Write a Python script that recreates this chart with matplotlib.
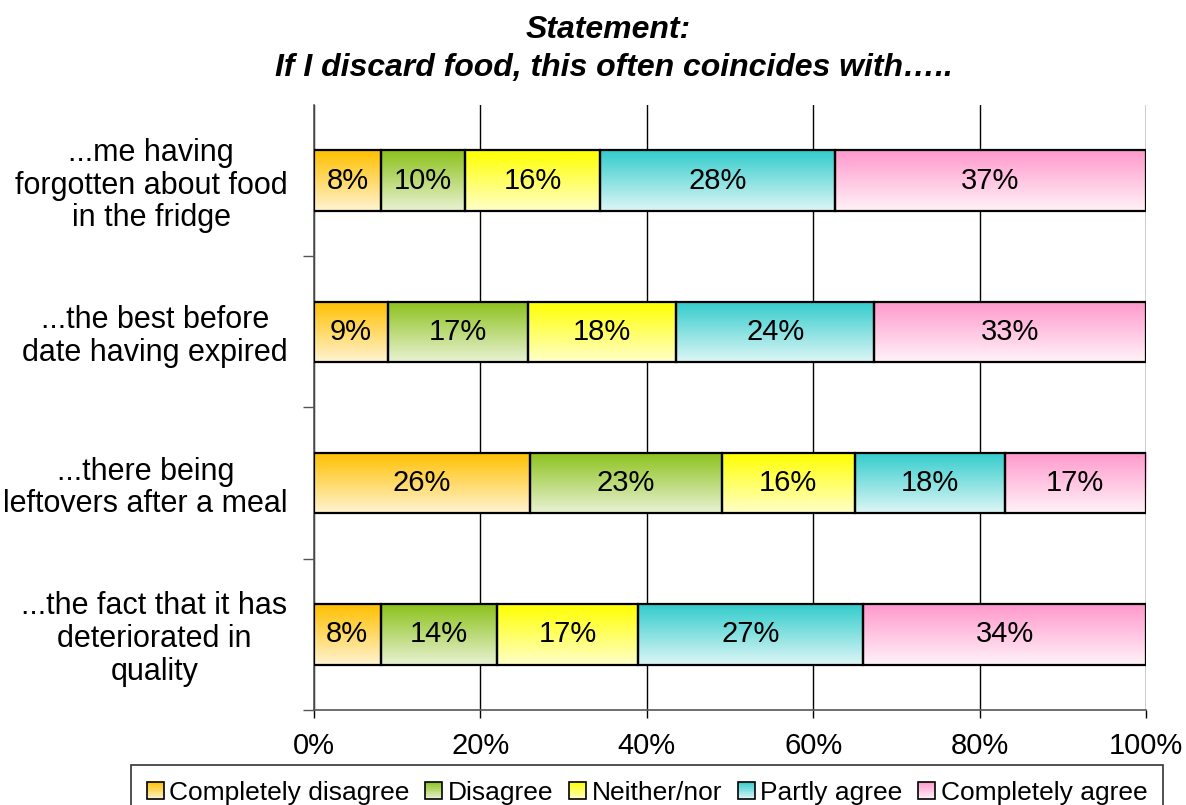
import matplotlib.pyplot as plt
import numpy as np
from matplotlib.colors import LinearSegmentedColormap, to_rgb
from matplotlib.legend_handler import HandlerBase
from matplotlib.patches import Rectangle
from matplotlib.ticker import FixedLocator

plt.rcParams["font.family"] = ["Liberation Sans", "DejaVu Sans"]

# survey answers (%) per statement, top row first
STATEMENTS = [
    "...me having\nforgotten about food\nin the fridge",
    "...the best before\ndate having expired",
    "...there being\nleftovers after a meal",
    "...the fact that it has\ndeteriorated in\nquality",
]
ANSWERS = ["Completely disagree", "Disagree", "Neither/nor",
           "Partly agree", "Completely agree"]
COMPLETELY_DISAGREE = [8, 9, 26, 8]
DISAGREE = [10, 17, 23, 14]
NEITHER = [16, 18, 16, 17]
PARTLY_AGREE = [28, 24, 18, 27]
COMPLETELY_AGREE = [37, 33, 17, 34]
X_TICKS = [0, 20, 40, 60, 80, 100]

# gradient fills: darker at the top of each bar, pale at the bottom
GRADIENTS = [
    ("#FFC000", "#FFF3D0"),
    ("#8CC21C", "#E9F2D2"),
    ("#FFFF00", "#FFFFC8"),
    ("#33CCCC", "#DDF6F6"),
    ("#FF99CC", "#FFF2F8"),
]
BAR_H = 0.4


class GradSwatch:
    def __init__(self, top, bottom):
        self.top, self.bottom = top, bottom


class GradSwatchHandler(HandlerBase):
    """Small square legend key filled with the same top-to-bottom gradient."""

    def create_artists(self, legend, handle, xdescent, ydescent,
                       width, height, fontsize, trans):
        side = min(width, height)
        x0 = -xdescent + (width - side) / 2
        y0 = -ydescent + (height - side) / 2
        c_top, c_bot = np.array(to_rgb(handle.top)), np.array(to_rgb(handle.bottom))
        n = 10
        arts = []
        for j in range(n):
            t = (j + 0.5) / n
            col = c_top * (1 - t) + c_bot * t
            arts.append(Rectangle((x0, y0 + side * (1 - (j + 1) / n)), side,
                                  side / n, facecolor=col, edgecolor="none",
                                  transform=trans))
        arts.append(Rectangle((x0, y0), side, side, fill=False,
                              edgecolor="black", linewidth=1.2,
                              transform=trans))
        return arts


series = np.array([COMPLETELY_DISAGREE, DISAGREE, NEITHER,
                   PARTLY_AGREE, COMPLETELY_AGREE], dtype=float)
shares = series / series.sum(axis=0) * 100  # 100% stacked

fig = plt.figure(figsize=(11.86, 8.05), dpi=100)
ax = fig.add_axes([314 / 1186, 1 - 710 / 805, 832 / 1186, 605 / 805])

grad = np.linspace(0, 1, 64).reshape(-1, 1)
for k, (top_c, bot_c) in enumerate(GRADIENTS):
    cmap = LinearSegmentedColormap.from_list(f"g{k}", [top_c, bot_c])
    lefts = shares[:k].sum(axis=0)
    for i in range(len(STATEMENTS)):
        x0, w = lefts[i], shares[k, i]
        ax.imshow(grad, cmap=cmap, aspect="auto", origin="upper",
                  extent=(x0, x0 + w, i + BAR_H / 2, i - BAR_H / 2),
                  zorder=2, interpolation="bilinear")
        ax.add_patch(Rectangle((x0, i - BAR_H / 2), w, BAR_H, fill=False,
                               edgecolor="black", linewidth=1.6, zorder=3))
        ax.text(x0 + w / 2, i, f"{int(series[k, i])}%", ha="center",
                va="center", fontsize=21, color="black", zorder=4)

ax.set_xlim(0, 100)
ax.set_ylim(len(STATEMENTS) - 0.5, -0.5)

ax.xaxis.set_major_locator(FixedLocator(X_TICKS))
ax.set_xticklabels([f"{t}%" for t in X_TICKS])
ax.tick_params(axis="x", direction="out", length=6, width=1, pad=10,
               labelsize=21, colors="black")

ax.set_yticks(range(len(STATEMENTS)))
ax.set_yticklabels(STATEMENTS, multialignment="center", linespacing=1.12)
ax.tick_params(axis="y", which="major", length=0, pad=19, labelsize=22)
ax.yaxis.set_minor_locator(FixedLocator(np.arange(0.5, len(STATEMENTS), 1)))
ax.tick_params(axis="y", which="minor", direction="out", length=8,
               width=1, color="#555555")

ax.grid(axis="x", color="black", linewidth=1, zorder=1)
ax.set_axisbelow(True)
for side in ("top", "right"):
    ax.spines[side].set_visible(False)
for side in ("left", "bottom"):
    ax.spines[side].set_color("#555555")
    ax.spines[side].set_linewidth(1.2)

fig.text(608 / 1186, 1 - 30 / 805, "Statement:", ha="center", va="center",
         fontsize=23, fontweight="bold", fontstyle="italic")
fig.text(614 / 1186, 1 - 68 / 805,
         "If I discard food, this often coincides with…..", ha="center",
         va="center", fontsize=23, fontweight="bold", fontstyle="italic")

handles = [GradSwatch(t, b) for t, b in GRADIENTS]
leg = fig.legend(handles, ANSWERS, loc="upper center", ncol=5,
                 bbox_to_anchor=(647 / 1186, 1 - 765 / 805), fontsize=19,
                 handler_map={GradSwatch: GradSwatchHandler()},
                 frameon=True, fancybox=False, edgecolor="black",
                 handlelength=0.65, handleheight=0.65, handletextpad=0.2,
                 columnspacing=0.6, borderpad=0.6, borderaxespad=0)
leg.get_frame().set_linewidth(1.2)

fig.savefig("out.png", dpi=100)
